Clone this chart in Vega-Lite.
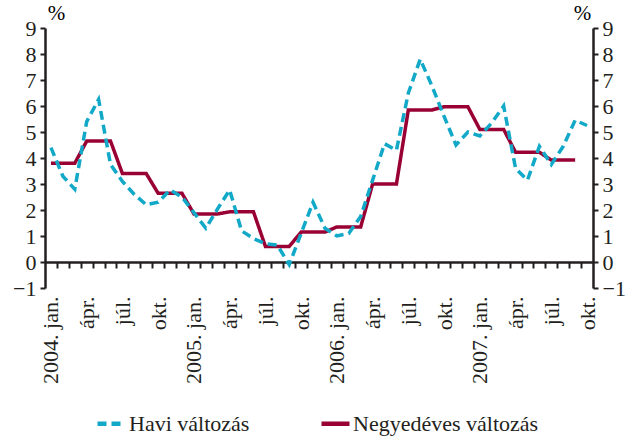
{
  "$schema": "https://vega.github.io/schema/vega-lite/v6.json",
  "width": 548,
  "height": 260,
  "autosize": "none",
  "padding": {"left": 45, "top": 28, "right": 40, "bottom": 153},
  "config": {
    "view": {"stroke": null},
    "font": "Liberation Serif",
    "axis": {"labelColor": "#231f20", "domainColor": "#231f20", "tickColor": "#231f20", "grid": false, "labelFont": "Liberation Serif", "titleFont": "Liberation Serif"},
    "legend": {"labelFont": "Liberation Serif"}
  },
  "data": {"values": [
    {"i": 0, "s": "Negyedéves változás", "v": 3.8},
    {"i": 1, "s": "Negyedéves változás", "v": 3.8},
    {"i": 2, "s": "Negyedéves változás", "v": 3.8},
    {"i": 3, "s": "Negyedéves változás", "v": 4.65},
    {"i": 4, "s": "Negyedéves változás", "v": 4.65},
    {"i": 5, "s": "Negyedéves változás", "v": 4.65},
    {"i": 6, "s": "Negyedéves változás", "v": 3.4},
    {"i": 7, "s": "Negyedéves változás", "v": 3.4},
    {"i": 8, "s": "Negyedéves változás", "v": 3.4},
    {"i": 9, "s": "Negyedéves változás", "v": 2.64},
    {"i": 10, "s": "Negyedéves változás", "v": 2.64},
    {"i": 11, "s": "Negyedéves változás", "v": 2.64},
    {"i": 12, "s": "Negyedéves változás", "v": 1.85},
    {"i": 13, "s": "Negyedéves változás", "v": 1.85},
    {"i": 14, "s": "Negyedéves változás", "v": 1.85},
    {"i": 15, "s": "Negyedéves változás", "v": 1.93},
    {"i": 16, "s": "Negyedéves változás", "v": 1.93},
    {"i": 17, "s": "Negyedéves változás", "v": 1.93},
    {"i": 18, "s": "Negyedéves változás", "v": 0.6},
    {"i": 19, "s": "Negyedéves változás", "v": 0.6},
    {"i": 20, "s": "Negyedéves változás", "v": 0.6},
    {"i": 21, "s": "Negyedéves változás", "v": 1.15},
    {"i": 22, "s": "Negyedéves változás", "v": 1.15},
    {"i": 23, "s": "Negyedéves változás", "v": 1.15},
    {"i": 24, "s": "Negyedéves változás", "v": 1.35},
    {"i": 25, "s": "Negyedéves változás", "v": 1.35},
    {"i": 26, "s": "Negyedéves változás", "v": 1.35},
    {"i": 27, "s": "Negyedéves változás", "v": 3.0},
    {"i": 28, "s": "Negyedéves változás", "v": 3.0},
    {"i": 29, "s": "Negyedéves változás", "v": 3.0},
    {"i": 30, "s": "Negyedéves változás", "v": 5.85},
    {"i": 31, "s": "Negyedéves változás", "v": 5.85},
    {"i": 32, "s": "Negyedéves változás", "v": 5.85},
    {"i": 33, "s": "Negyedéves változás", "v": 5.97},
    {"i": 34, "s": "Negyedéves változás", "v": 5.97},
    {"i": 35, "s": "Negyedéves változás", "v": 5.97},
    {"i": 36, "s": "Negyedéves változás", "v": 5.1},
    {"i": 37, "s": "Negyedéves változás", "v": 5.1},
    {"i": 38, "s": "Negyedéves változás", "v": 5.1},
    {"i": 39, "s": "Negyedéves változás", "v": 4.22},
    {"i": 40, "s": "Negyedéves változás", "v": 4.22},
    {"i": 41, "s": "Negyedéves változás", "v": 4.22},
    {"i": 42, "s": "Negyedéves változás", "v": 3.92},
    {"i": 43, "s": "Negyedéves változás", "v": 3.92},
    {"i": 44, "s": "Negyedéves változás", "v": 3.92},
    {"i": 0, "s": "Havi változás", "v": 4.4},
    {"i": 1, "s": "Havi változás", "v": 3.3},
    {"i": 2, "s": "Havi változás", "v": 2.8},
    {"i": 3, "s": "Havi változás", "v": 5.4},
    {"i": 4, "s": "Havi változás", "v": 6.25},
    {"i": 5, "s": "Havi változás", "v": 3.75},
    {"i": 6, "s": "Havi változás", "v": 3.1},
    {"i": 7, "s": "Havi változás", "v": 2.6},
    {"i": 8, "s": "Havi változás", "v": 2.2},
    {"i": 9, "s": "Havi változás", "v": 2.3},
    {"i": 10, "s": "Havi változás", "v": 2.77},
    {"i": 11, "s": "Havi változás", "v": 2.5},
    {"i": 12, "s": "Havi változás", "v": 1.9},
    {"i": 13, "s": "Havi változás", "v": 1.3},
    {"i": 14, "s": "Havi változás", "v": 2.05},
    {"i": 15, "s": "Havi változás", "v": 2.77},
    {"i": 16, "s": "Havi változás", "v": 1.2},
    {"i": 17, "s": "Havi változás", "v": 0.9},
    {"i": 18, "s": "Havi változás", "v": 0.7},
    {"i": 19, "s": "Havi változás", "v": 0.65},
    {"i": 20, "s": "Havi változás", "v": -0.1},
    {"i": 21, "s": "Havi változás", "v": 1.1},
    {"i": 22, "s": "Havi változás", "v": 2.3},
    {"i": 23, "s": "Havi változás", "v": 1.3},
    {"i": 24, "s": "Havi változás", "v": 1.0},
    {"i": 25, "s": "Havi változás", "v": 1.1},
    {"i": 26, "s": "Havi változás", "v": 1.75},
    {"i": 27, "s": "Havi változás", "v": 3.15},
    {"i": 28, "s": "Havi változás", "v": 4.55},
    {"i": 29, "s": "Havi változás", "v": 4.3},
    {"i": 30, "s": "Havi változás", "v": 6.5},
    {"i": 31, "s": "Havi változás", "v": 7.8},
    {"i": 32, "s": "Havi változás", "v": 6.75},
    {"i": 33, "s": "Havi változás", "v": 5.6},
    {"i": 34, "s": "Havi változás", "v": 4.5},
    {"i": 35, "s": "Havi változás", "v": 5.0},
    {"i": 36, "s": "Havi változás", "v": 4.85},
    {"i": 37, "s": "Havi változás", "v": 5.35},
    {"i": 38, "s": "Havi változás", "v": 6.0},
    {"i": 39, "s": "Havi változás", "v": 3.6},
    {"i": 40, "s": "Havi változás", "v": 3.15},
    {"i": 41, "s": "Havi változás", "v": 4.45},
    {"i": 42, "s": "Havi változás", "v": 3.75},
    {"i": 43, "s": "Havi változás", "v": 4.45},
    {"i": 44, "s": "Havi változás", "v": 5.45},
    {"i": 45, "s": "Havi változás", "v": 5.25}
  ]},
  "layer": [
    {
      "mark": {"type": "line", "strokeWidth": 3.5, "clip": false},
      "encoding": {
        "x": {"field": "i", "type": "quantitative",
          "scale": {"domain": [-0.5, 45.5], "nice": false, "zero": false},
          "axis": {"orient": "bottom", "offset": -26, "values": [0.5,1.5,2.5,3.5,4.5,5.5,6.5,7.5,8.5,9.5,10.5,11.5,12.5,13.5,14.5,15.5,16.5,17.5,18.5,19.5,20.5,21.5,22.5,23.5,24.5,25.5,26.5,27.5,28.5,29.5,30.5,31.5,32.5,33.5,34.5,35.5,36.5,37.5,38.5,39.5,40.5,41.5,42.5,43.5,44.5],
            "labels": false, "title": null, "tickSize": 6, "tickWidth": 2, "domainWidth": 2.5}},
        "y": {"field": "v", "type": "quantitative",
          "scale": {"domain": [-1, 9], "nice": false, "zero": false},
          "axis": {"orient": "left", "values": [-1,0,1,2,3,4,5,6,7,8,9], "tickSize": 5, "tickWidth": 2, "domainWidth": 2.5,
            "labelFontSize": 22, "labelPadding": 4,
            "title": "%", "titleAngle": 0, "titleX": 11, "titleY": -9, "titleFontSize": 21, "titleFontWeight": "normal", "titleAlign": "center", "titleBaseline": "alphabetic"}},
        "color": {"field": "s", "type": "nominal",
          "scale": {"domain": ["Havi változás", "Negyedéves változás"], "range": ["#12A8C8", "#990033"]},
          "legend": {"orient": "none", "legendX": 50, "legendY": 379, "direction": "horizontal", "title": null,
            "symbolType": "stroke", "symbolSize": 784, "symbolStrokeWidth": 4.5, "labelFontSize": 22, "labelColor": "#231f20",
            "labelOffset": 1, "labelLimit": 400, "columnPadding": 62}},
        "strokeDash": {"field": "s", "type": "nominal",
          "scale": {"domain": ["Havi változás", "Negyedéves változás"], "range": [[9, 5], [1, 0]]},
          "legend": null}
      }
    },
    {
      "mark": {"type": "point", "opacity": 0},
      "encoding": {
        "x": {"field": "i", "type": "quantitative",
          "axis": {"orient": "bottom", "values": [0,3,6,9,12,15,18,21,24,27,30,33,36,39,42,45],
            "labelExpr": "datum.value % 12 == 0 ? (2004 + datum.value / 12) + '. jan.' : datum.value % 12 == 3 ? 'ápr.' : datum.value % 12 == 6 ? 'júl.' : 'okt.'",
            "labelAngle": -90, "labelAlign": "right", "labelBaseline": "middle", "labelFontSize": 22, "labelPadding": 8,
            "domain": false, "ticks": false, "title": null}},
        "y": {"field": "v", "type": "quantitative",
          "axis": {"orient": "right", "values": [-1,0,1,2,3,4,5,6,7,8,9], "tickSize": 5, "tickWidth": 2, "domainWidth": 2.5,
            "labelFontSize": 22, "labelPadding": 4,
            "title": "%", "titleAngle": 0, "titleX": -11, "titleY": -9, "titleFontSize": 21, "titleFontWeight": "normal", "titleAlign": "center", "titleBaseline": "alphabetic"}}
      }
    }
  ],
  "resolve": {"scale": {"x": "shared", "y": "shared"}, "axis": {"x": "independent", "y": "independent"}}
}
